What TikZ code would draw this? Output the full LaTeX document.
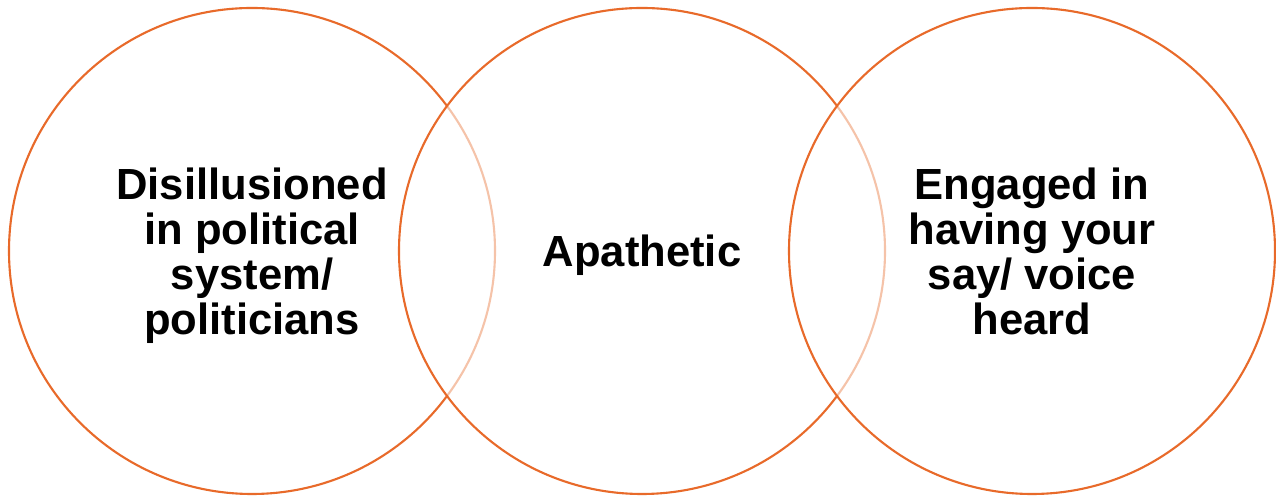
\documentclass[tikz,border=0pt]{standalone}
\usepackage{fontspec}
\setmainfont{Liberation Sans}
\usepackage{tikz}
\usetikzlibrary{positioning}
\usepackage{xcolor}
\definecolor{ringorange}{RGB}{232,106,42}
\newcommand{\ringfont}{\fontsize{12.4pt}{12.8pt}\selectfont\bfseries}
\tikzset{
  ring/.style={circle, draw=ringorange, line width=0.6pt,
    fill=white, fill opacity=0.6, text opacity=1,
    minimum size=4.86cm, inner sep=0pt, text depth=0pt,
    align=center, font=\ringfont},
}

\begin{document}
\begin{tikzpicture}[
  node distance=3.9cm,
]
\useasboundingbox (0,0) rectangle (12.76,4.97);

\node[ring] (disillusioned) at (2.52,2.46) {Disillusioned\\in political\\system/\\politicians};
\node[ring, right=of disillusioned.center, anchor=center] (apathetic) {Apathetic};
\node[ring, right=of apathetic.center, anchor=center] (engaged) {Engaged in\\having your\\say/ voice\\heard};

\end{tikzpicture}
\end{document}
